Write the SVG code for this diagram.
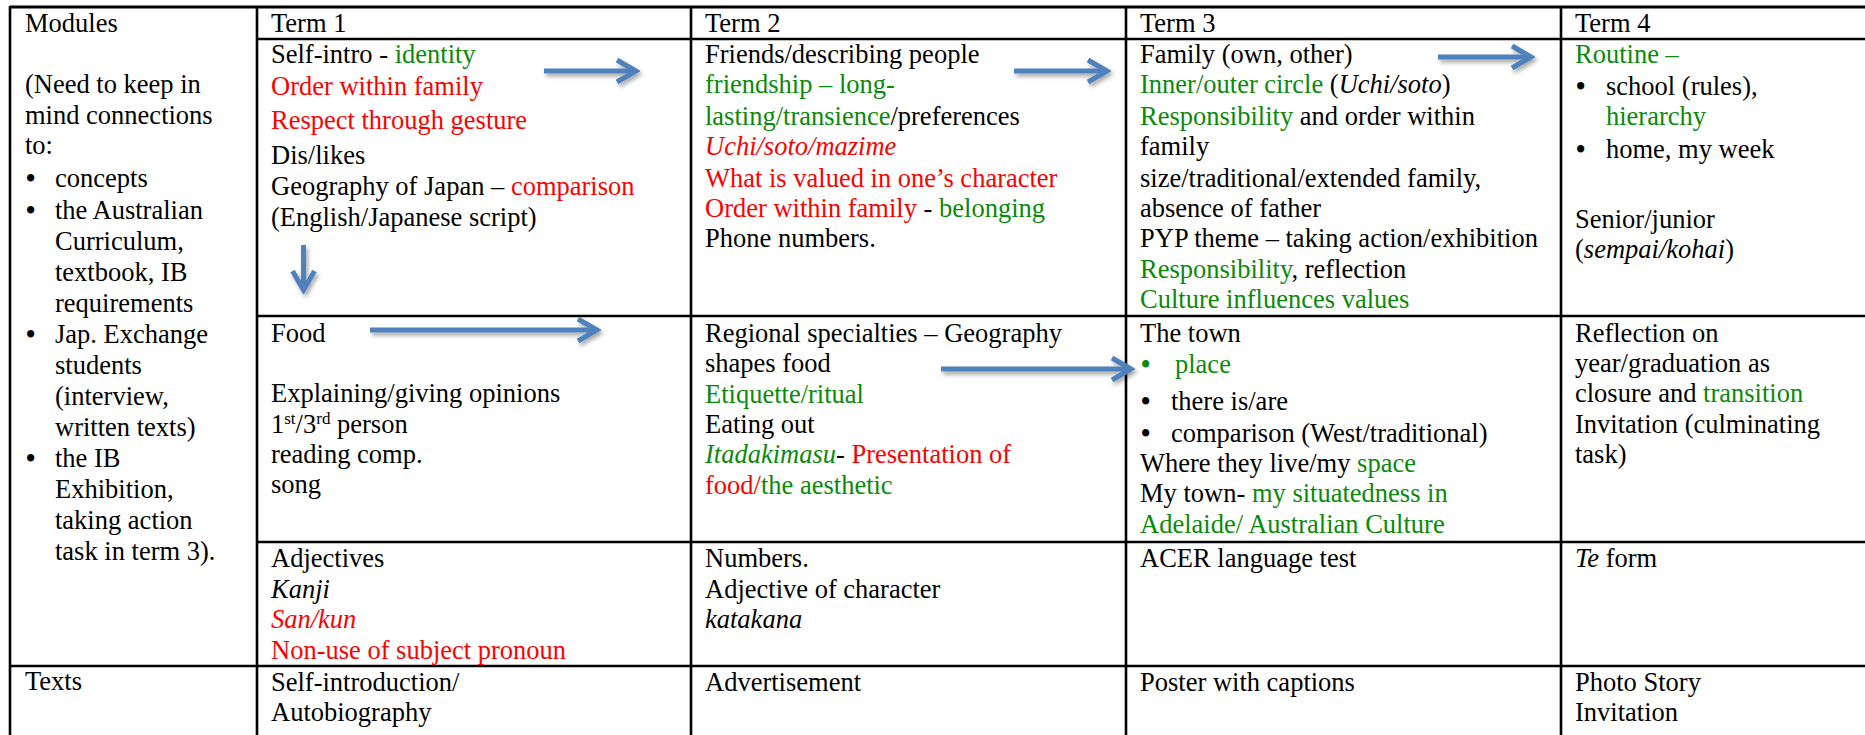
<svg xmlns="http://www.w3.org/2000/svg" width="1865" height="735" viewBox="0 0 1865 735" font-family="'Liberation Serif', 'Times New Roman', Times, 'DejaVu Serif', serif">
<style>
text{font-family:'Liberation Serif','Times New Roman',Times,'DejaVu Serif',serif;font-size:26.5px;fill:#000}
.g{fill:#0a8a0a}
.r{fill:#ff0000}
.i{font-style:italic}
.b{font-weight:bold}
.sup{font-size:17px}
.grid line{stroke:#000;stroke-width:2.6}
.arr{stroke:#4f81bd;stroke-width:5;fill:none}
</style>
<defs>
<marker id="chev" viewBox="0 0 26 28" refX="22" refY="14" markerWidth="26" markerHeight="28" markerUnits="userSpaceOnUse" orient="auto">
<path d="M3,3 L22,14 L3,25" fill="none" stroke="#4f81bd" stroke-width="5" stroke-linejoin="miter"/>
</marker>
<filter id="sh" x="-20%" y="-50%" width="140%" height="220%">
<feDropShadow dx="2" dy="3" stdDeviation="2" flood-color="#000" flood-opacity="0.35"/>
</filter>
</defs>
<rect width="1865" height="735" fill="#fff"/>
<g id="grid" class="grid">
<line x1="10" y1="7" x2="1865" y2="7" style="stroke-width:3.2"/>
<line x1="257" y1="39" x2="1865" y2="39"/>
<line x1="257" y1="316" x2="1865" y2="316"/>
<line x1="257" y1="542" x2="1865" y2="542"/>
<line x1="10" y1="666" x2="1865" y2="666"/>
<line x1="10" y1="6" x2="10" y2="735"/>
<line x1="257" y1="6" x2="257" y2="735"/>
<line x1="691" y1="6" x2="691" y2="735"/>
<line x1="1126" y1="6" x2="1126" y2="735"/>
<line x1="1561" y1="6" x2="1561" y2="735"/>
</g>
<g id="modules">
<text x="25" y="32">Modules</text>
<text x="25" y="93">(Need to keep in</text>
<text x="25" y="124">mind connections</text>
<text x="25" y="154">to:</text>
<text x="26" y="187" class="b">•</text><text x="55" y="187">concepts</text>
<text x="26" y="219" class="b">•</text><text x="55" y="219">the Australian</text>
<text x="55" y="250">Curriculum,</text>
<text x="55" y="281">textbook, IB</text>
<text x="55" y="312">requirements</text>
<text x="26" y="343" class="b">•</text><text x="55" y="343">Jap. Exchange</text>
<text x="55" y="374">students</text>
<text x="55" y="405">(interview,</text>
<text x="55" y="436">written texts)</text>
<text x="26" y="467" class="b">•</text><text x="55" y="467">the IB</text>
<text x="55" y="498">Exhibition,</text>
<text x="55" y="529">taking action</text>
<text x="55" y="560">task in term 3).</text>
</g>
<g id="texts-label"><text x="25" y="690">Texts</text></g>
<g id="term1">
<text x="271" y="32">Term 1</text>
<text x="271" y="63">Self-intro - <tspan class="g">identity</tspan></text>
<text x="271" y="95" class="r">Order within family</text>
<text x="271" y="129" class="r">Respect through gesture</text>
<text x="271" y="164">Dis/likes</text>
<text x="271" y="195">Geography of Japan – <tspan class="r">comparison</tspan></text>
<text x="271" y="226">(English/Japanese script)</text>
<text x="271" y="342">Food</text>
<text x="271" y="402">Explaining/giving opinions</text>
<text x="271" y="433">1<tspan class="sup" dy="-9">st</tspan><tspan dy="9">/3</tspan><tspan class="sup" dy="-9">rd</tspan><tspan dy="9"> person</tspan></text>
<text x="271" y="463">reading comp.</text>
<text x="271" y="493">song</text>
<text x="271" y="567">Adjectives</text>
<text x="271" y="598" class="i">Kanji</text>
<text x="271" y="628" class="r i">San/kun</text>
<text x="271" y="659" class="r">Non-use of subject pronoun</text>
<text x="271" y="691">Self-introduction/</text>
<text x="271" y="721">Autobiography</text>
</g>
<g id="term2">
<text x="705" y="32">Term 2</text>
<text x="705" y="63">Friends/describing people</text>
<text x="705" y="93" class="g">friendship – long-</text>
<text x="705" y="125"><tspan class="g">lasting/transience</tspan>/preferences</text>
<text x="705" y="155" class="r i">Uchi/soto/mazime</text>
<text x="705" y="187" class="r">What is valued in one’s character</text>
<text x="705" y="217"><tspan class="r">Order within family</tspan> - <tspan class="g">belonging</tspan></text>
<text x="705" y="247">Phone numbers.</text>
<text x="705" y="342">Regional specialties – Geography</text>
<text x="705" y="372">shapes food</text>
<text x="705" y="403" class="g">Etiquette/ritual</text>
<text x="705" y="433">Eating out</text>
<text x="705" y="463"><tspan class="g i">Itadakimasu</tspan>- <tspan class="r">Presentation of</tspan></text>
<text x="705" y="494"><tspan class="r">food/</tspan><tspan class="g">the aesthetic</tspan></text>
<text x="705" y="567">Numbers.</text>
<text x="705" y="598">Adjective of character</text>
<text x="705" y="628" class="i">katakana</text>
<text x="705" y="691">Advertisement</text>
</g>
<g id="term3">
<text x="1140" y="32">Term 3</text>
<text x="1140" y="63">Family (own, other)</text>
<text x="1140" y="93"><tspan class="g">Inner/outer circle</tspan> (<tspan class="i">Uchi/soto</tspan>)</text>
<text x="1140" y="125"><tspan class="g">Responsibility</tspan> and order within</text>
<text x="1140" y="155">family</text>
<text x="1140" y="187">size/traditional/extended family,</text>
<text x="1140" y="217">absence of father</text>
<text x="1140" y="247">PYP theme – taking action/exhibition</text>
<text x="1140" y="278"><tspan class="g">Responsibility</tspan>, reflection</text>
<text x="1140" y="308" class="g">Culture influences values</text>
<text x="1140" y="342">The town</text>
<text x="1141" y="373" class="g b">•</text><text x="1175" y="373" class="g">place</text>
<text x="1141" y="410" class="b">•</text><text x="1171" y="410">there is/are</text>
<text x="1141" y="442" class="b">•</text><text x="1171" y="442">comparison (West/traditional)</text>
<text x="1140" y="472">Where they live/my <tspan class="g">space</tspan></text>
<text x="1140" y="502">My town- <tspan class="g">my situatedness in</tspan></text>
<text x="1140" y="533" class="g">Adelaide/ Australian Culture</text>
<text x="1140" y="567">ACER language test</text>
<text x="1140" y="691">Poster with captions</text>
</g>
<g id="term4">
<text x="1575" y="32">Term 4</text>
<text x="1575" y="63" class="g">Routine –</text>
<text x="1576" y="95" class="b">•</text><text x="1606" y="95">school (rules),</text>
<text x="1606" y="125" class="g">hierarchy</text>
<text x="1576" y="158" class="b">•</text><text x="1606" y="158">home, my week</text>
<text x="1575" y="228">Senior/junior</text>
<text x="1575" y="258">(<tspan class="i">sempai/kohai</tspan>)</text>
<text x="1575" y="342">Reflection on</text>
<text x="1575" y="372">year/graduation as</text>
<text x="1575" y="402">closure and <tspan class="g">transition</tspan></text>
<text x="1575" y="433">Invitation (culminating</text>
<text x="1575" y="463">task)</text>
<text x="1575" y="567"><tspan class="i">Te</tspan> form</text>
<text x="1575" y="691">Photo Story</text>
<text x="1575" y="721">Invitation</text>
</g>
<g id="connectors" filter="url(#sh)">
<path class="arr" d="M544,71 H636" marker-end="url(#chev)"/>
<path class="arr" d="M303.5,245 V290" marker-end="url(#chev)"/>
<path class="arr" d="M370,330 H597" marker-end="url(#chev)"/>
<path class="arr" d="M1014,71 H1107" marker-end="url(#chev)"/>
<path class="arr" d="M941,369 H1131" marker-end="url(#chev)"/>
<path class="arr" d="M1438,57 H1531" marker-end="url(#chev)"/>
</g>
</svg>
